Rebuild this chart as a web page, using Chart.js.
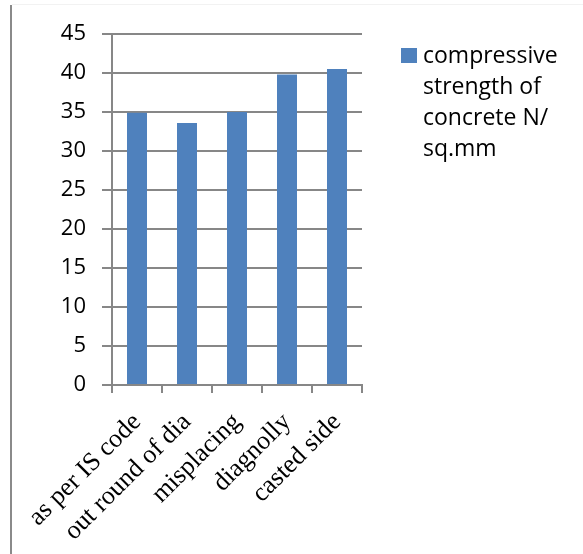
<!DOCTYPE html>
<html>
<head>
<meta charset="utf-8">
<script src="https://cdn.jsdelivr.net/npm/chart.js@4.4.1/dist/chart.umd.min.js"></script>
<style>
  html, body { margin: 0; padding: 0; background: #ffffff; }
  #wrap { width: 583px; height: 554px; position: relative; }
</style>
</head>
<body>
<div id="wrap"><canvas id="c" width="583" height="554"></canvas></div>
<script>
// Test groups and measured strength
const categories = ['as per IS code', 'out round of dia', 'misplacing', 'diagnolly', 'casted side'];
const strength = [34.9, 33.6, 35, 39.8, 40.5];
const seriesName = 'compressive strength of concrete N/ sq.mm';
const yMin = 0, yMax = 45, yStep = 5;

const BAR = '#4f81bd';
const GRID = '#878787';

// Outer frame: left rule and faint top rule
const framePlugin = {
  id: 'frame',
  beforeDraw(chart) {
    const ctx = chart.ctx;
    ctx.save();
    ctx.fillStyle = '#f2f2f2';
    ctx.fillRect(12, 4, chart.width - 12, 1);
    ctx.fillStyle = '#8a8a8a';
    ctx.fillRect(10, 5, 2, chart.height - 5);
    ctx.restore();
  }
};

// Legend at the right with word-wrapped series name
const sideLegend = {
  id: 'sideLegend',
  afterDraw(chart) {
    const ctx = chart.ctx;
    const area = chart.chartArea;
    const ds = chart.data.datasets[0];
    ctx.save();
    ctx.font = '23px "Open Sans", sans-serif';
    const maxW = 150;
    const words = ds.label.split(' ');
    const lines = [];
    let cur = '';
    words.forEach(w => {
      const t = cur ? cur + ' ' + w : w;
      if (ctx.measureText(t).width > maxW && cur) { lines.push(cur); cur = w; }
      else cur = t;
    });
    if (cur) lines.push(cur);
    const boxX = area.right + 39, boxY = area.top + 14;
    ctx.fillStyle = ds.backgroundColor;
    ctx.fillRect(boxX, boxY, 16, 15);
    ctx.fillStyle = '#000000';
    ctx.textBaseline = 'middle';
    ctx.textAlign = 'left';
    lines.forEach((ln, i) => ctx.fillText(ln, boxX + 22, boxY + 8 + i * 31));
    ctx.restore();
  }
};

new Chart(document.getElementById('c'), {
  type: 'bar',
  data: {
    labels: categories,
    datasets: [{
      label: seriesName,
      data: strength,
      backgroundColor: BAR,
      borderWidth: 0,
      categoryPercentage: 0.8,
      barPercentage: 0.5
    }]
  },
  options: {
    responsive: false,
    animation: false,
    devicePixelRatio: 1,
    layout: { padding: { top: 34, right: 221, left: 0, bottom: 0 } },
    plugins: {
      legend: { display: false },
      tooltip: { enabled: false }
    },
    scales: {
      x: {
        grid: { drawOnChartArea: false, drawTicks: true, tickLength: 8, color: GRID, lineWidth: 2 },
        border: { display: true, color: GRID, width: 2 },
        ticks: {
          color: '#000000',
          font: { family: '"Liberation Serif", "Times New Roman", serif', size: 26 },
          maxRotation: 45, minRotation: 45,
          padding: 14
        },
        afterFit(scale) { scale.height = 169; }
      },
      y: {
        min: yMin, max: yMax,
        ticks: {
          stepSize: yStep,
          color: '#000000',
          font: { family: '"Open Sans", sans-serif', size: 22 },
          padding: 16
        },
        grid: { color: GRID, lineWidth: 2, tickLength: 10, drawTicks: true },
        border: { display: true, color: GRID, width: 2 },
        afterFit(scale) { scale.width = 112; }
      }
    }
  },
  plugins: [framePlugin, sideLegend]
});
</script>
</body>
</html>
